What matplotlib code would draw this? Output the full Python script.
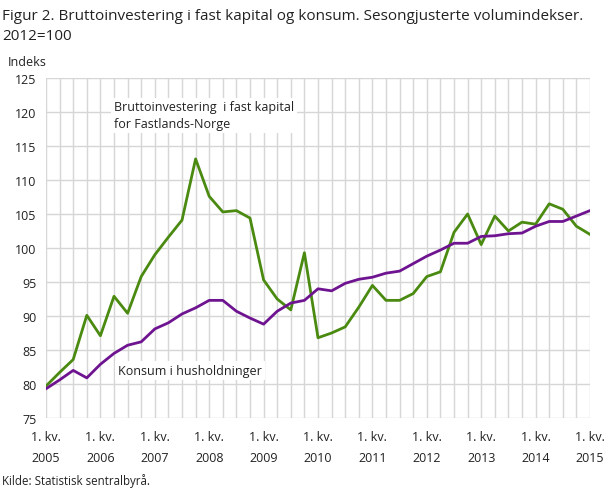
import numpy as np
import matplotlib
matplotlib.use('Agg')
import matplotlib.pyplot as plt

plt.rcParams['font.family'] = ['Open Sans', 'DejaVu Sans']

# Data, quarterly 2005Q1 - 2015Q1
quarters = np.arange(41)
investering = [79.7, 81.7, 83.6, 90.1, 87.1, 92.9, 90.4, 95.8,
               99.0, 101.6, 104.1, 113.1, 107.6, 105.3, 105.5, 104.4,
               95.3, 92.5, 90.9, 99.3, 86.8, 87.5, 88.4, 91.3,
               94.5, 92.3, 92.3, 93.3, 95.8, 96.5, 102.3, 105.0,
               100.5, 104.7, 102.5, 103.8, 103.5, 106.5, 105.7, 103.2,
               102.0]
konsum = [79.3, 80.6, 82.0, 80.9, 82.9, 84.5, 85.7, 86.2,
          88.1, 89.0, 90.3, 91.2, 92.3, 92.3, 90.7, 89.7,
          88.8, 90.7, 91.9, 92.3, 94.0, 93.7, 94.8, 95.4,
          95.7, 96.3, 96.6, 97.7, 98.8, 99.7, 100.7, 100.7,
          101.7, 101.8, 102.1, 102.2, 103.2, 103.9, 103.9, 104.7,
          105.5]
years = list(range(2005, 2016))
tick_labels = ['1. kv.\n%d' % y for y in years]

GREEN = '#4a8a10'
PURPLE = '#6f1490'
GRID = '#d6d6d6'
TXT = '#222222'

fig = plt.figure(figsize=(6.09, 4.89), dpi=100)
ax = fig.add_axes([46/609, 1-419/489, 544/609, 340/489])

ax.plot(quarters, investering, color=GREEN, lw=2.0, zorder=3)
ax.plot(quarters, konsum, color=PURPLE, lw=2.0, zorder=3)

ax.set_xlim(0, 40)
ax.set_ylim(75, 125)
ax.set_yticks(np.arange(75, 126, 5))
ax.set_xticks(quarters, minor=True)
ax.set_xticks(np.arange(0, 41, 4))
ax.set_xticklabels(tick_labels)
ax.grid(True, which='both', color=GRID, lw=1.0)
ax.set_axisbelow(True)
for s in ax.spines.values():
    s.set_visible(False)
ax.tick_params(which='both', length=0, labelsize=9, colors=TXT)
ax.tick_params(axis='y', pad=7)
ax.tick_params(axis='x', pad=9)
for lab in ax.get_xticklabels():
    lab.set_linespacing(1.75)

ax.text(5.0, 119.5, 'Bruttoinvestering  i fast kapital\nfor Fastlands-Norge',
        fontsize=9, color=TXT, va='center', ha='left', linespacing=1.4,
        bbox=dict(facecolor='white', edgecolor='none', pad=2), zorder=2)
ax.text(5.3, 82.0, 'Konsum i husholdninger', fontsize=9, color=TXT,
        va='center', ha='left',
        bbox=dict(facecolor='white', edgecolor='none', pad=2), zorder=2)

fig.text(2/609, 1-9/489, 'Figur 2. Bruttoinvestering i fast kapital og konsum. Sesongjusterte volumindekser.\n2012=100',
         fontsize=11, fontweight='medium', color=TXT, va='top', ha='left', linespacing=1.45)
fig.text(8/609, 1-62/489, 'Indeks', fontsize=9, color=TXT, va='center', ha='left')
fig.text(2/609, 1-481/489, 'Kilde: Statistisk sentralbyrå.', fontsize=8.3, color=TXT,
         va='center', ha='left')

fig.savefig('out.png', dpi=100)
